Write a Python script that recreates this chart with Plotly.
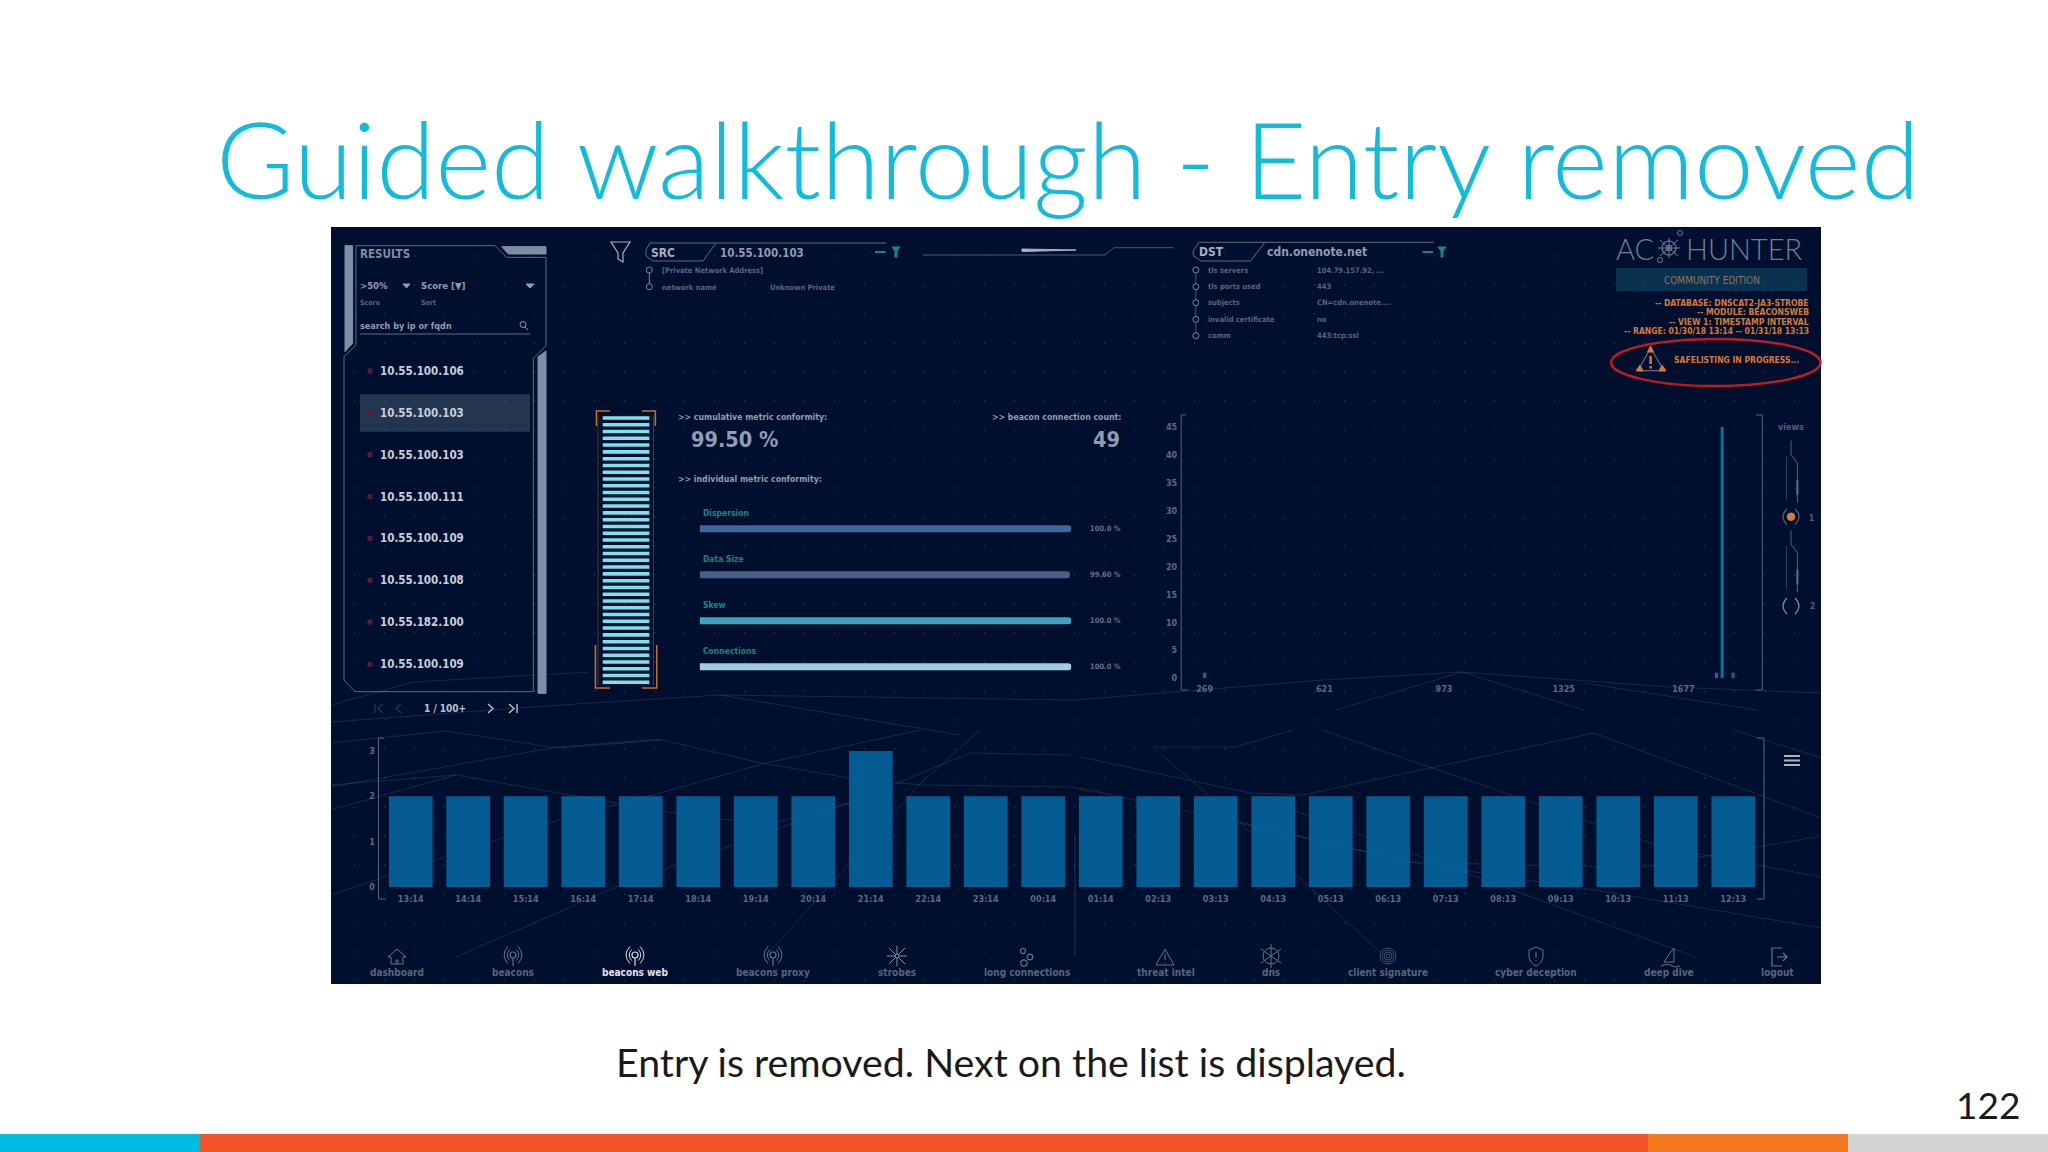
import plotly.graph_objects as go

# bottom histogram
hour_labels = ["13:14", "14:14", "15:14", "16:14", "17:14", "18:14", "19:14", "20:14", "21:14", "22:14", "23:14", "00:14",
               "01:14", "02:13", "03:13", "04:13", "05:13", "06:13", "07:13", "08:13", "09:13", "10:13", "11:13", "12:13"]
hour_counts = [2, 2, 2, 2, 2, 2, 2, 2, 3, 2, 2, 2, 2, 2, 2, 2, 2, 2, 2, 2, 2, 2, 2, 2]

# interval chart, top right
interval_x = [269, 1774, 1791, 1823]
interval_counts = [1, 1, 45, 1]
interval_ticks = [269, 621, 973, 1325, 1677]
count_ticks = [0, 5, 10, 15, 20, 25, 30, 35, 40, 45]

# metric bars
metric_names = ["Dispersion", "Data Size", "Skew", "Connections"]
metric_values = [100.0, 99.6, 100.0, 100.0]
metric_text = ["100.0 %", "99.60 %", "100.0 %", "100.0 %"]
metric_colors = ["#3f66a0", "#4a5f88", "#3ea3c0", "#a0cde6"]

# conformity gauge, every cell lit
gauge_rows = list(range(40))
gauge_cells = [1, 1, 1, 1, 1, 1, 1, 1, 1, 1, 1, 1, 1, 1, 1, 1, 1, 1, 1, 1,
               1, 1, 1, 1, 1, 1, 1, 1, 1, 1, 1, 1, 1, 1, 1, 1, 1, 1, 1, 1]

result_ips = ["10.55.100.106", "10.55.100.103", "10.55.100.103", "10.55.100.111",
              "10.55.100.109", "10.55.100.108", "10.55.182.100", "10.55.100.109"]
dst_rows = [("tls servers", "104.79.157.92, ..."), ("tls ports used", "443"), ("subjects", "CN=cdn.onenote...."),
            ("invalid certificate", "no"), ("comm", "443:tcp:ssl")]
status_lines = ["-- DATABASE: DNSCAT2-JA3-STROBE", "-- MODULE: BEACONSWEB", "-- VIEW 1: TIMESTAMP INTERVAL",
                "-- RANGE: 01/30/18 13:14 -- 01/31/18 13:13"]
nav_items = ["dashboard", "beacons", "beacons web", "beacons proxy", "strobes", "long connections",
             "threat intel", "dns", "client signature", "cyber deception", "deep dive", "logout"]
nav_x = [397, 513, 635, 773, 897, 1027, 1166, 1271, 1388, 1536, 1669, 1777]

W, H = 2048, 1152
UI = "DejaVu Sans Condensed"
SLATE = "#8f9cb3"
DIM = "#56667f"
ORANGE = "#d97a34"
TEAL = "#17858c"
LINE = "#76859c"


def dom_x(a, b):
    return [a / W, b / W]


def dom_y(top, bottom):
    return [1 - bottom / H, 1 - top / H]


fig = go.Figure()
shapes = []
notes = []


def label(x, y, text, size=10, color=SLATE, anchor="left", bold=True, family=UI):
    notes.append(dict(x=x, y=y, xref="x", yref="y", text=text, showarrow=False, xanchor=anchor, yanchor="middle",
                      borderpad=0, borderwidth=0,
                      font=dict(size=size, color=color, family=family, weight="bold" if bold else "normal")))


def poly(pts, color=LINE, width=1, close=False, fill=None, layer="below"):
    path = "M" + " L".join(f"{x},{y}" for x, y in pts) + (" Z" if close else "")
    shapes.append(dict(type="path", path=path, xref="x", yref="y", layer=layer,
                       line=dict(color=color, width=width), fillcolor=fill or "rgba(0,0,0,0)"))


def raw(path, color=LINE, width=1, fill=None, layer="below"):
    shapes.append(dict(type="path", path=path, xref="x", yref="y", layer=layer,
                       line=dict(color=color, width=width), fillcolor=fill or "rgba(0,0,0,0)"))


def box(x0, y0, x1, y1, fill, layer="below", line=None, width=0):
    shapes.append(dict(type="rect", x0=x0, y0=y0, x1=x1, y1=y1, xref="x", yref="y", layer=layer,
                       fillcolor=fill, line=dict(width=width, color=line or fill)))


def ring(cx, cy, r, color=LINE, width=1, fill=None, layer="below"):
    shapes.append(dict(type="circle", x0=cx - r, x1=cx + r, y0=cy - r, y1=cy + r, xref="x", yref="y", layer=layer,
                       line=dict(color=color, width=width), fillcolor=fill or "rgba(0,0,0,0)"))


# footer band and panel
box(0, 1134, 200, 1152, "#00bce0")
box(200, 1134, 1648, 1152, "#f05428")
box(1648, 1134, 1848, 1152, "#f47820")
box(1848, 1134, 2048, 1152, "#d0d2d3")
box(331, 227, 1821, 984, "#000f2d")

# faint network lines behind everything
web = [
    [(330, 743), (446, 731), (558, 748), (662, 740), (761, 763), (849, 778), (921, 785), (1071, 787), (1090, 792)],
    [(330, 785), (456, 775), (558, 793), (669, 812), (766, 825), (849, 803), (970, 753), (1071, 755)],
    [(330, 787), (558, 747), (662, 739)],
    [(330, 810), (456, 775)],
    [(330, 895), (558, 820), (660, 793), (766, 763), (921, 730)],
    [(456, 957), (621, 885), (849, 803)],
    [(769, 953), (921, 783), (980, 730)],
    [(1080, 757), (1250, 793), (1303, 795), (1594, 733)],
    [(1080, 788), (1182, 810), (1410, 862), (1637, 868), (1821, 836)],
    [(1153, 747), (1235, 747), (1293, 730)],
    [(1153, 747), (1240, 823), (1380, 952)],
    [(1240, 822), (1410, 862), (1613, 893), (1821, 928)],
    [(1293, 810), (1696, 957)],
    [(1322, 730), (1662, 847), (1821, 877)],
    [(1594, 733), (1821, 818)],
    [(1734, 730), (1821, 758)],
    [(1323, 680), (1462, 672), (1670, 687), (1820, 693)],
    [(1336, 710), (1462, 672), (1584, 710)],
    [(1584, 683), (1757, 710)],
    [(331, 705), (413, 682), (590, 672)],
    [(331, 722), (560, 705), (720, 695), (960, 735)],
    [(720, 695), (1075, 700), (1323, 680)],
]
for w in web:
    poly(w, color="rgba(95,125,165,0.24)", width=1)
poly([(1075, 836), (1075, 955)], color="rgba(95,125,165,0.3)")

# results frame, left
def zl(zx, zy):
    return (330 + zx / 3, 225 + zy / 3)


poly([zl(*p) for p in [(78, 62), (495, 62), (530, 97), (648, 97), (648, 362), (610, 400), (610, 1400), (75, 1400),
                       (42, 1365), (42, 395), (78, 360)]], color="#5d6c84", close=True)
poly([zl(*p) for p in [(45, 62), (68, 62), (68, 355), (45, 380)]], color="#7f8ea6", close=True, fill="#7f8ea6")
poly([zl(*p) for p in [(624, 395), (648, 378), (648, 1405), (624, 1405)]], color="#7f8ea6", close=True, fill="#7f8ea6")
poly([zl(*p) for p in [(515, 65), (648, 65), (648, 87), (535, 87)]], color="#7f8ea6", close=True, fill="#7f8ea6")
label(360, 254, "RESULTS", 11.5, "#7f8ea6")
label(360, 285, "&gt;50%", 9.5)
label(421, 285, "Score [▼]", 9.5)
poly([(403, 284), (410, 284), (406.5, 288)], color=SLATE, close=True, fill=SLATE)
poly([(526, 284), (534, 284), (530, 288)], color=SLATE, close=True, fill=SLATE)
label(360, 303, "Score", 7, DIM)
label(421, 303, "Sort", 7, DIM)
label(360, 326, "search by ip or fqdn", 9, SLATE)
poly([(360, 334), (530, 334)], color="#5d6c84")
ring(523, 324.5, 3, SLATE)
poly([(525, 327), (528, 330)], color=SLATE)
box(360, 394.3, 530, 431.7, "#243550")
for ip, y in zip(result_ips, [371, 412.7, 454.7, 496.7, 538.3, 580.3, 622, 664.3]):
    label(380, y, ip, 11.5, "#c8d0dc")
    box(367.5, y - 2.5, 372.5, y + 2.5, "#5c1838")
label(445, 708, "1 / 100+", 10, "#b7c0ce", anchor="center")
poly([(488, 704), (493, 708.5), (488, 713)], color="#b7c0ce", width=1.4)
poly([(509, 704), (514, 708.5), (509, 713)], color="#b7c0ce", width=1.4)
poly([(517, 704), (517, 713)], color="#b7c0ce", width=1.4)
poly([(375, 704), (375, 713)], color="#25344d", width=1.4)
poly([(383, 704), (378, 708.5), (383, 713)], color="#25344d", width=1.4)
poly([(401, 704), (396, 708.5), (401, 713)], color="#25344d", width=1.4)

# src header
poly([(611, 242), (630, 242), (623, 253), (623, 262), (618, 259), (618, 253)], color="#a6b1c3", close=True, width=1.2)
poly([(646, 250), (650, 243), (886, 243)], color="#5d6c84")
poly([(716, 243), (703, 261), (653, 261), (646, 256), (646, 250)], color="#5d6c84")
label(651, 252.5, "SRC", 12, "#a6b1c3")
label(720, 252.5, "10.55.100.103", 11.5, SLATE)
poly([(875, 252), (885.5, 252)], color=TEAL, width=2)
poly([(892, 247), (900, 247), (897, 251), (897, 257), (895, 257), (895, 251)], color=TEAL, close=True, fill=TEAL)
poly([(923, 255), (1104.8, 255), (1114, 247.7), (1173.6, 247.7)], color="#4b5b75")
poly([(1022, 249), (1076, 250), (1022, 251.5)], color="#aab4c4", close=True, fill="#aab4c4")
ring(649.3, 270, 3, "#7a889e")
ring(649.3, 286.7, 3, "#7a889e")
poly([(649.3, 273), (649.3, 283.7)], color="#7a889e")
label(661.6, 270, "[Private Network Address]", 7.5, DIM)
label(661.6, 287, "network name", 7.5, DIM)
label(770, 287, "Unknown Private", 7.5, DIM)

# dst header
poly([(1194, 250), (1198.7, 242.3), (1434, 242.3)], color="#5d6c84")
poly([(1265, 242.3), (1250.5, 261), (1200.7, 261), (1193.3, 255.7), (1193.3, 250)], color="#5d6c84")
label(1198.7, 252, "DST", 12, "#a6b1c3")
label(1267, 252, "cdn.onenote.net", 12, SLATE)
poly([(1422.5, 252), (1433, 252)], color=TEAL, width=2)
poly([(1438, 247), (1446, 247), (1443, 251), (1443, 257), (1441, 257), (1441, 251)], color=TEAL, close=True, fill=TEAL)
dst_y = [270, 286.7, 302.7, 319.3, 335.7]
poly([(1195.8, 270), (1195.8, 335.7)], color="#47566e")
for (name, val), y in zip(dst_rows, dst_y):
    ring(1195.8, y, 3, "#7a889e", fill="#000f2d")
    label(1208, y, name, 7.5, DIM)
    label(1316.8, y, val, 7.5, DIM)

# logo and status block
label(1616, 248, "AC", 29, "#6e7f9a", bold=False, family="Lato Light")
label(1685.8, 248, "HUNTER", 29, "#6e7f9a", bold=False, family="Lato Light")
ring(1669, 248, 7, "#6e7f9a", 1.2)
ring(1669, 248, 2.5, "#6e7f9a", 1.2)
for a, b in [((1660, 240), (1678, 256)), ((1678, 240), (1660, 256)), ((1669, 238), (1669, 258)), ((1658, 248), (1680, 248))]:
    poly([a, b], color="#6e7f9a")
ring(1680, 233, 2.5, "#6e7f9a")
ring(1660, 260, 2.5, "#6e7f9a")
box(1616, 268, 1807, 291, "#0b3150")
label(1711.5, 280, "COMMUNITY EDITION", 10, "#8d7458", anchor="center", bold=False)
for line, y in zip(status_lines, [302.7, 312.3, 322, 331.3]):
    label(1809, y, line, 8.5, ORANGE, anchor="right")
shapes.append(dict(type="circle", x0=1611, x1=1820.5, y0=339, y1=386, xref="x", yref="y", layer="above",
                   line=dict(color="#c01a22", width=2.5), fillcolor="rgba(0,0,0,0)"))
poly([(1650.6, 348), (1638, 370.7), (1664, 370.7)], color="#7a889e", close=True)
poly([(1650.6, 346), (1647.5, 352), (1653.5, 352)], color=ORANGE, close=True, fill=ORANGE)
poly([(1636, 371), (1643, 371), (1640, 365)], color=ORANGE, close=True, fill=ORANGE)
poly([(1666, 371), (1659, 371), (1662, 365)], color=ORANGE, close=True, fill=ORANGE)
poly([(1650.6, 356), (1650.6, 364)], color=ORANGE, width=2.5)
poly([(1650.6, 366), (1650.6, 368.5)], color=ORANGE, width=2.5)
label(1674, 360, "SAFELISTING IN PROGRESS...", 8.5, ORANGE)

# gauge frame
for a, b in [((598, 415), (598, 685)), ((653.5, 415), (653.5, 685))]:
    poly([a, b], color="#4d3a2e")
poly([(596.4, 426), (596.4, 411), (610, 411)], color="#c8702a", width=1.5)
poly([(642, 411), (655.4, 411), (655.4, 426)], color="#c8702a", width=1.5)
poly([(595.4, 645), (595.4, 688), (610, 688)], color="#c8702a", width=1.5)
poly([(642, 688), (656.8, 688), (656.8, 645)], color="#c8702a", width=1.5)

# metrics text
label(677.5, 416.7, "&gt;&gt; cumulative metric conformity:", 8.7)
label(690.7, 439, "99.50 %", 21.5)
label(1121, 416.7, "&gt;&gt; beacon connection count:", 8.7, anchor="right")
label(1120, 439, "49", 21.5, anchor="right")
label(677.5, 479.3, "&gt;&gt; individual metric conformity:", 8.7)

# chart brackets
BRACKET = "#55647c"
poly([(1186, 415), (1181.2, 415), (1181.2, 690), (1188, 690)], color=BRACKET)
poly([(1756, 415), (1762.3, 415), (1762.3, 690), (1756, 690)], color=BRACKET)
poly([(384, 738), (378.5, 738), (378.5, 899), (386, 899)], color=BRACKET)
poly([(1757, 738), (1764, 738), (1764, 899), (1757, 899)], color=BRACKET)
for y in [756, 760.5, 765]:
    poly([(1784, y), (1800, y)], color="#a9b4c5", width=2, layer="above")

# views selector
label(1791.4, 426.7, "views", 9, "#46618a", anchor="center")
for off in [0, 89.7]:
    poly([(1791, 440.7 + off), (1791, 455 + off), (1797.4, 463 + off), (1797.4, 502.7 + off)], color="#53627a")
    poly([(1786.6, 456 + off), (1786.6, 500 + off)], color="#3d4c64", width=0.8)
    poly([(1797.4, 480 + off), (1797.4, 495 + off)], color="#5f6e86", width=2)
ring(1791, 516.7, 3.8, ORANGE, fill=ORANGE)
raw("M1787,509 Q1779,516.7 1787,524.5", color="#53627a", width=1.2)
raw("M1795,509 Q1803,516.7 1795,524.5", color="#53627a", width=1.2)
raw("M1787,598 Q1779,606 1787,614", color="#7a889e", width=1.2)
raw("M1795,598 Q1803,606 1795,614", color="#7a889e", width=1.2)
label(1811, 517.7, "1", 8.5, "#46618a", anchor="center")
label(1812, 606, "2", 8.5, "#46618a", anchor="center")

# nav bar
for name, x in zip(nav_items, nav_x):
    label(x, 972.3, name, 10, "#e1e5ec" if name == "beacons web" else "#56667f", anchor="center")
IC = "#66758c"
poly([(388, 957), (397, 949), (406, 957), (403, 957), (403, 964), (391, 964), (391, 957)], color=IC, close=True)
poly([(396, 964), (396, 960), (398, 960), (398, 964)], color=IC)
for x, col in [(513, IC), (635, "#d5dbe5"), (773, IC)]:
    ring(x, 955, 3, col, 1.2)
    poly([(x, 958), (x, 966)], color=col, width=1.2)
    for r in [5.5, 8.5]:
        raw(f"M{x - r * 0.6},{955 - r} Q{x - r * 1.5},955 {x - r * 0.6},{955 + r}", color=col)
        raw(f"M{x + r * 0.6},{955 - r} Q{x + r * 1.5},955 {x + r * 0.6},{955 + r}", color=col)
for a, b in [((897, 946), (897, 966)), ((887, 956), (907, 956)), ((889, 948), (905, 964)), ((905, 948), (889, 964))]:
    poly([a, b], color="#8794a8")
ring(897, 956, 2, "#8794a8", fill="#000f2d")
ring(1023, 951, 2.5, IC, 1.2)
ring(1030, 957, 2.8, IC, 1.2)
ring(1024, 963, 3.2, IC, 1.2)
poly([(1165, 949), (1156, 965), (1174, 965)], color=IC, close=True)
poly([(1165, 954), (1165, 960)], color=IC)
poly([(1165, 962), (1165, 963)], color=IC)
ring(1271, 956, 8, IC)
for a, b in [((1271, 944), (1271, 968)), ((1261, 949), (1281, 963)), ((1281, 949), (1261, 963))]:
    poly([a, b], color=IC)
for r in [2, 4, 6, 8]:
    ring(1388, 956, r, "#3f4e66", 1)
raw("M1536,947 L1543,950 L1543,957 Q1542,963 1536,966 Q1530,963 1529,957 L1529,950 Z", color=IC)
poly([(1536, 952), (1536, 958)], color=IC)
poly([(1536, 960), (1536, 961)], color=IC)
raw("M1664,962 Q1668,955 1674,948 L1674,962 Z", color=IC)
raw("M1661,966 Q1668,963 1672,966 Q1676,968 1680,966", color=IC)
poly([(1782, 948), (1772, 948), (1772, 966), (1782, 966)], color=IC, width=1.2)
poly([(1777, 957), (1787, 957)], color=IC, width=1.2)
poly([(1783, 953), (1787, 957), (1783, 961)], color=IC, width=1.2)

# slide text
label(1068, 157, "Guided walkthrough - Entry removed", 107, "#0fbcdc", anchor="center", bold=False, family="Lato Light")
label(1011, 1061, "Entry is removed. Next on the list is displayed.", 39.3, "#1a1a1a", anchor="center", bold=False, family="Lato")
label(1988, 1104, "122", 37, "#1a1a1a", anchor="center", bold=False, family="Lato")

# page-pixel axes, used for the decoration; the dots are the panel's background texture
dots_x, dots_y = [], []
for row in range(26):
    for col in range(49):
        dots_x.append(354.7 + 30 * col)
        dots_y.append(256 + 29 * row)
fig.add_trace(go.Scatter(x=dots_x, y=dots_y, mode="markers", xaxis="x", yaxis="y", hoverinfo="skip",
                         marker=dict(size=1.6, color="rgba(125,145,175,0.32)")))

# metric bars
fig.add_trace(go.Bar(x=metric_values, y=metric_names, orientation="h", xaxis="x2", yaxis="y2", width=0.152,
                     marker=dict(color=metric_colors, line_width=0, cornerradius=3.5)))
# gauge
fig.add_trace(go.Bar(x=gauge_cells, y=gauge_rows, orientation="h", xaxis="x3", yaxis="y3", width=0.52,
                     marker=dict(color="#7fe0ee", line_width=0)))
# interval histogram
fig.add_trace(go.Bar(x=interval_x, y=interval_counts, xaxis="x4", yaxis="y4", width=9,
                     marker=dict(color="#0a6fa8", line_width=0)))
# hourly histogram
fig.add_trace(go.Bar(x=hour_labels, y=hour_counts, xaxis="x5", yaxis="y5",
                     marker=dict(color="#04659f", opacity=0.9, line_width=0)))

metric_y = [528.7, 574.7, 620.7, 666.7]
label_y = [512.7, 558.7, 605, 651]
for name, txt, y, ly in zip(metric_names, metric_text, metric_y, label_y):
    label(703, ly, name, 8.5, TEAL)
    label(1121, y, txt, 7.5, "#64728a", anchor="right")

hidden = dict(visible=False, fixedrange=True)
tick_font = dict(size=9, color="#5a6a86", family=UI, weight="bold")
fig.update_layout(
    width=W, height=H, margin=dict(l=0, r=0, t=0, b=0, pad=0, autoexpand=False), autosize=False,
    paper_bgcolor="white", plot_bgcolor="rgba(0,0,0,0)", showlegend=False, bargap=0.24,
    shapes=shapes, annotations=notes,
    xaxis=dict(domain=[0, 1], range=[0, W], **hidden),
    yaxis=dict(domain=[0, 1], range=[H, 0], **hidden),
    xaxis2=dict(domain=dom_x(699.6, 1071.4), range=[0, 100], anchor="y2", **hidden),
    yaxis2=dict(domain=dom_y(505.7, 689.7), autorange="reversed", anchor="x2", **hidden),
    xaxis3=dict(domain=dom_x(602.5, 649.6), range=[0, 1], anchor="y3", **hidden),
    yaxis3=dict(domain=dom_y(414.6, 685.7), range=[-0.5, 39.5], anchor="x3", **hidden),
    xaxis4=dict(domain=dom_x(1181.2, 1762.3), range=[200, 1909], anchor="y4", tickvals=interval_ticks, ticklabelstandoff=4,
                showgrid=False, zeroline=False, showline=False, ticks="", tickfont=tick_font, fixedrange=True),
    yaxis4=dict(domain=dom_y(426.7, 678.3), range=[0, 45], anchor="x4", tickvals=count_ticks, ticklabelstandoff=3,
                showgrid=False, zeroline=False, showline=False, ticks="", tickfont=tick_font, fixedrange=True),
    xaxis5=dict(domain=dom_x(382, 1762), anchor="y5", type="category", showgrid=False, zeroline=False, ticklabelstandoff=5,
                showline=False, ticks="", tickfont=tick_font, tickangle=0, fixedrange=True),
    yaxis5=dict(domain=dom_y(751, 887), range=[0, 3], anchor="x5", tickvals=[0, 1, 2, 3], ticklabelstandoff=6,
                showgrid=False, zeroline=False, showline=False, ticks="", tickfont=tick_font, fixedrange=True),
)

fig.write_html("out.html", config={"displayModeBar": False}, post_script="document.body.style.margin='0';")
